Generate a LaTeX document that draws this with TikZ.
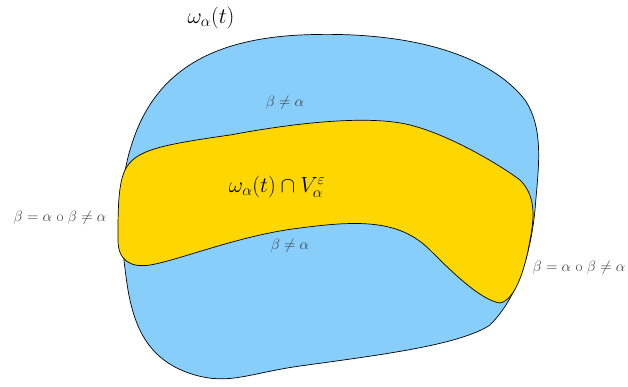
\documentclass[tikz,border=0pt]{standalone}
\usepackage{fix-cm}
\usepackage{amsmath}
\definecolor{skyb}{HTML}{87CEFA}
\definecolor{goldy}{HTML}{FFD700}
\begin{document}
\begin{tikzpicture}[x=1pt,y=-1pt,
  region/.style={draw=black,line width=0.7pt},
  biglabel/.style={inner sep=0pt,font=\fontsize{22}{26}\selectfont},
  smalllabel/.style={inner sep=0pt,text=black!75,font=\fontsize{15}{18}\selectfont}]
\useasboundingbox (0,0) rectangle (628,386);
% outer region
\path[region,fill=skyb] (300,35) .. controls (410,30) and (490,55) .. (525,100)
  .. controls (545,130) and (538,170) .. (535,210)
  .. controls (530,260) and (515,300) .. (490,325)
  .. controls (460,345) and (380,355) .. (300,366)
  .. controls (250,373) and (230,385) .. (195,375)
  .. controls (150,362) and (135,330) .. (128,290)
  .. controls (120,240) and (118,190) .. (130,150)
  .. controls (150,80) and (200,40) .. (300,35) -- cycle;
% inner region
\path[region,fill=goldy] (125,170) .. controls (135,150) and (160,145) .. (230,135)
  .. controls (300,122) and (370,115) .. (410,125)
  .. controls (450,135) and (500,165) .. (520,180)
  .. controls (535,195) and (535,215) .. (530,240)
  .. controls (525,270) and (515,300) .. (500,303)
  .. controls (480,300) and (450,270) .. (430,250)
  .. controls (400,220) and (360,220) .. (300,228)
  .. controls (240,235) and (180,260) .. (150,265)
  .. controls (130,268) and (118,260) .. (118,240)
  .. controls (118,210) and (118,185) .. (125,170) -- cycle;
\node[biglabel] (wt) at (211,18) {$\omega_\alpha(t)$};
\node[biglabel] (wv) at (277,187) {$\omega_\alpha(t)\cap V_\alpha^\varepsilon$};
\node[smalllabel] (nt) at (285,103) {$\beta\neq\alpha$};
\node[smalllabel] (nb) at (290,246) {$\beta\neq\alpha$};
\node[smalllabel] (ll) at (60,218) {$\beta=\alpha$ o $\beta\neq\alpha$};
\node[smalllabel] (lr) at (579,268) {$\beta=\alpha$ o $\beta\neq\alpha$};
\end{tikzpicture}
\end{document}
